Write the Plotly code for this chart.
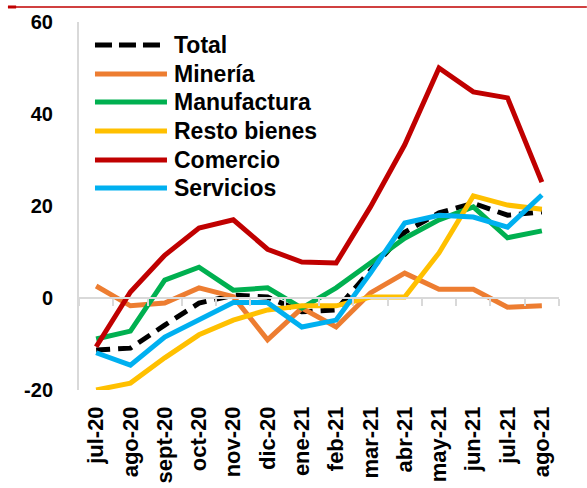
import plotly.graph_objects as go

months = ["jul-20", "ago-20", "sept-20", "oct-20", "nov-20", "dic-20", "ene-21",
          "feb-21", "mar-21", "abr-21", "may-21", "jun-21", "jul-21", "ago-21"]

total = [-11.3, -10.9, -5.9, -1.1, 0.6, 0.2, -3.0, -2.6, 6.0, 14.3, 18.5, 20.6, 18.0, 18.7]
mineria = [2.6, -1.7, -1.1, 2.2, 0.3, -9.1, -2.2, -6.3, 1.1, 5.4, 1.9, 1.9, -2.0, -1.7]
manufactura = [-8.9, -7.2, 3.9, 6.7, 1.7, 2.2, -2.2, 2.2, 7.6, 13.0, 17.0, 19.8, 13.1, 14.6]
resto_bienes = [-20.0, -18.5, -13.0, -8.0, -4.8, -2.6, -1.7, -1.7, 0.2, 0.2, 9.8, 22.2, 20.2, 19.3]
comercio = [-10.6, 1.3, 9.3, 15.2, 17.0, 10.6, 7.8, 7.6, 19.8, 33.3, 50.0, 44.8, 43.5, 25.2]
servicios = [-11.9, -14.6, -8.5, -4.8, -1.0, -1.0, -6.3, -4.8, 5.4, 16.3, 18.0, 17.6, 15.4, 22.4]

y_ticks = [-20, 0, 20, 40, 60]
y_tick_labels = ["-20", "0", "20", "40", "60"]

series = [
    ("Total", total, "#000000", "14px,8px"),
    ("Minería", mineria, "#ED7D31", "solid"),
    ("Manufactura", manufactura, "#00B050", "solid"),
    ("Resto bienes", resto_bienes, "#FFC000", "solid"),
    ("Comercio", comercio, "#C00000", "solid"),
    ("Servicios", servicios, "#00B0F0", "solid"),
]

font_family = "Arial, Liberation Sans, sans-serif"
grid_grey = "#D9D9D9"

fig = go.Figure()

# helper (invisible) trace that carries the category axis drawn through zero
fig.add_trace(go.Scatter(
    x=months, y=total, xaxis="x2", mode="lines", opacity=0,
    line=dict(width=0), showlegend=False, hoverinfo="skip",
))

for name, vals, color, dash in series:
    fig.add_trace(go.Scatter(
        x=months, y=vals, name=name, mode="lines", showlegend=False,
        line=dict(color=color, width=5, dash=dash),
    ))

# manual legend (long line samples as in the reference)
shapes = []
annotations = []
leg_x0, leg_x1, leg_tx = 0.0333, 0.1833, 0.194
leg_rows = [0.9375, 0.8587, 0.7826, 0.7038, 0.625, 0.5489]
for (name, vals, color, dash), ry in zip(series, leg_rows):
    shapes.append(dict(
        type="line", xref="paper", yref="paper",
        x0=leg_x0, x1=leg_x1, y0=ry, y1=ry,
        line=dict(color=color, width=5, dash="17px,7px" if dash != "solid" else "solid"),
    ))
    annotations.append(dict(
        xref="paper", yref="paper", x=leg_tx, y=ry, xanchor="left", yanchor="middle",
        text=name, showarrow=False,
        font=dict(family=font_family, size=23, color="black", weight="bold"),
    ))

# decorative red rule at the top
shapes.append(dict(type="line", xref="paper", yref="paper", x0=-0.148, x1=1.058,
                   y0=1.0408, y1=1.0408, line=dict(color="#C00000", width=1.5)))
shapes.append(dict(type="line", xref="paper", yref="paper", x0=-0.148, x1=-0.131,
                   y0=1.0408, y1=1.0408, line=dict(color="#C00000", width=3)))

fig.update_layout(
    width=587, height=488,
    margin=dict(l=79, r=28, t=22, b=98, autoexpand=False),
    plot_bgcolor="white", paper_bgcolor="white",
    font=dict(family=font_family, color="black", size=15),
    showlegend=False,
    xaxis=dict(
        type="category", tickangle=-90, showgrid=False, automargin=False,
        tickfont=dict(family=font_family, size=22, color="black", weight="bold"),
        showline=False, ticks="", range=[-0.5, 13.5], ticklabelstandoff=11,
    ),
    xaxis2=dict(
        type="category", overlaying="x", anchor="free", position=0.25,
        range=[-0.5, 13.5], showticklabels=False, showgrid=False, automargin=False,
        ticks="outside", tickson="boundaries", ticklen=7, tickwidth=2,
        tickcolor=grid_grey, showline=True, linecolor=grid_grey, linewidth=2,
    ),
    yaxis=dict(
        range=[-20, 60], tickvals=y_ticks, ticktext=y_tick_labels,
        showgrid=False, zeroline=False, automargin=False,
        showline=True, linecolor=grid_grey, linewidth=2,
        tickfont=dict(family=font_family, size=20, color="black", weight="bold"),
        ticks="", ticklabelstandoff=20,
    ),
    shapes=shapes,
    annotations=annotations,
)

fig.write_html("out.html", config={"displayModeBar": False},
               post_script="document.body.style.margin='0';")
